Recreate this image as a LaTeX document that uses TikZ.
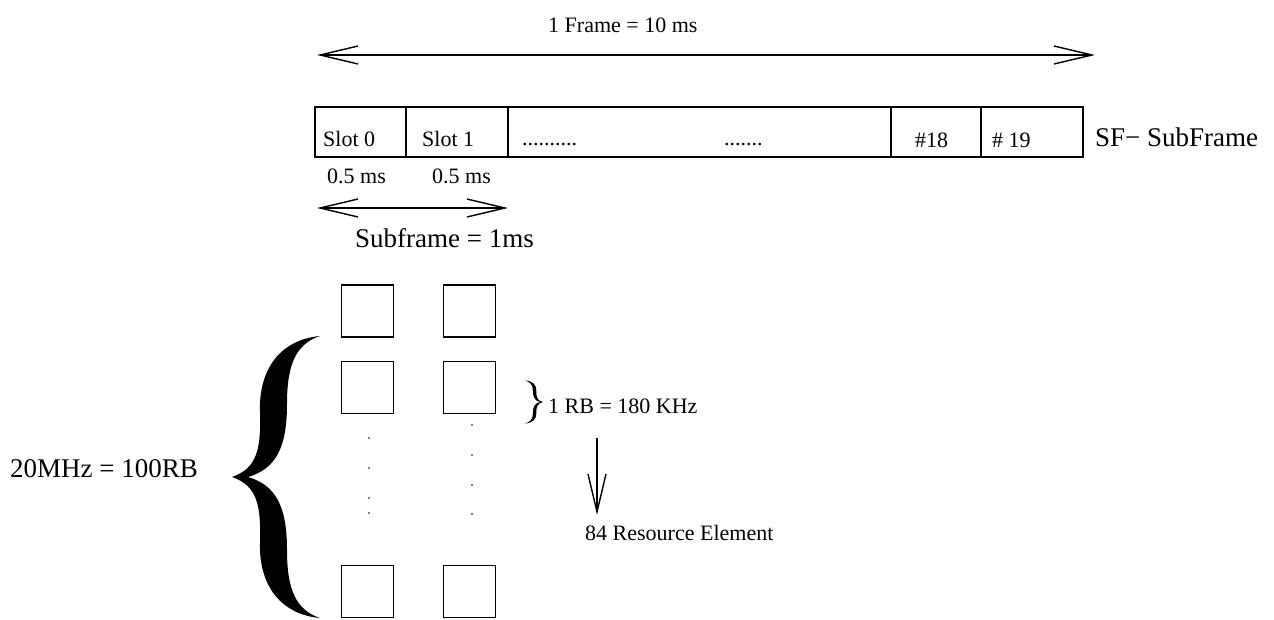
\documentclass[tikz,border=0pt]{standalone}
\usepackage{fontspec}
\setmainfont{Liberation Serif}
\usetikzlibrary{arrows.meta}
\tikzset{lbarb/.tip={Straight Barb[length=38pt,width=18pt,line width=1.4pt]}}
\begin{document}
\begin{tikzpicture}[x=1pt,y=-1pt,
  lbl/.style={anchor=base west, inner sep=0pt, font=\fontsize{22}{26}\selectfont},
  biglbl/.style={anchor=base west, inner sep=0pt, font=\fontsize{27}{32}\selectfont},
  cell/.style={draw, line width=1.3pt, minimum height=50pt, inner sep=0pt},
  rbsq/.style={draw, line width=1.2pt, minimum size=52pt, inner sep=0pt},
  dimarrow/.style={line width=1.4pt, lbarb-lbarb},
  downarrow/.style={line width=1.4pt, -lbarb},
  rbdot/.style={fill, circle, inner sep=0pt, minimum size=1.8pt},
  bracefill/.style={fill=black, draw=none}
]
\useasboundingbox (0,0) rectangle (1274,619);

% frame arrow
\coordinate (fl) at (317,55);
\coordinate (fr) at (1095,55);
\draw[dimarrow] (fl) -- (fr);
\node[lbl] (ftext) at (548,32) {1 Frame = 10 ms};

% frame cells
\node[cell, minimum width=91pt]  (c0) at (360.5,132) {};
\node[cell, minimum width=102pt] (c1) at (457,132) {};
\node[cell, minimum width=383pt] (c2) at (699.5,132) {};
\node[cell, minimum width=90pt]  (c3) at (936,132) {};
\node[cell, minimum width=102pt] (c4) at (1032,132) {};
\node[lbl] (s0) at (323,146) {Slot 0};
\node[lbl] (s1) at (422,146) {Slot 1};
\node[lbl] (d1) at (522,145) {..........};
\node[lbl] (d2) at (724,145) {.......};
\node[lbl] (s18) at (915,147) {\#18};
\node[lbl] (s19) at (992,147) {\# 19};
\node[biglbl] (sf) at (1095,146) {SF−\ SubFrame};

% slot durations
\node[lbl] (h0) at (327,183) {0.5 ms};
\node[lbl] (h1) at (432,183) {0.5 ms};

% subframe arrow
\coordinate (sl) at (317,208);
\coordinate (sr) at (508,208);
\draw[dimarrow] (sl) -- (sr);
\node[biglbl] (sft) at (355,247) {Subframe = 1ms};

% resource blocks
\node[rbsq] (q11) at (367.5,311) {};
\node[rbsq] (q12) at (469.5,311) {};
\node[rbsq] (q21) at (367.5,387.5) {};
\node[rbsq] (q22) at (469.5,387.5) {};
\node[rbsq] (q31) at (367.5,591.5) {};
\node[rbsq] (q32) at (469.5,591.5) {};
\foreach \yy [count=\i] in {438,468,498,513} {\node[rbdot] (pa\i) at (369,\yy) {};}
\foreach \yy [count=\i] in {425,455,485,514} {\node[rbdot] (pb\i) at (472,\yy) {};}

% big brace
\begin{scope}[shift={(232,477)}, xscale=88, yscale=141]
\fill[bracefill] (1,-1)
  .. controls (0.523,-0.972) and (0.307,-0.745) .. (0.318,-0.475)
  .. controls (0.330,-0.206) and (0.295,-0.064) .. (0,0)
  .. controls (0.295,0.064) and (0.330,0.206) .. (0.318,0.475)
  .. controls (0.307,0.745) and (0.523,0.972) .. (1,1)
  .. controls (0.727,0.943) and (0.625,0.801) .. (0.625,0.518)
  .. controls (0.625,0.199) and (0.489,0.057) .. (0.182,0)
  .. controls (0.489,-0.057) and (0.625,-0.199) .. (0.625,-0.518)
  .. controls (0.625,-0.801) and (0.727,-0.943) .. (1,-1) -- cycle;
\end{scope}
\node[biglbl] (bw) at (10,477) {20MHz = 100RB};

% small brace
\begin{scope}[shift={(543,402)}, xscale=-18, yscale=21.5]
\fill[bracefill] (1,-1)
  .. controls (0.55,-0.97) and (0.36,-0.80) .. (0.37,-0.50)
  .. controls (0.38,-0.20) and (0.30,-0.06) .. (0,0)
  .. controls (0.30,0.06) and (0.38,0.20) .. (0.37,0.50)
  .. controls (0.36,0.80) and (0.55,0.97) .. (1,1)
  .. controls (0.72,0.93) and (0.56,0.82) .. (0.56,0.52)
  .. controls (0.56,0.20) and (0.45,0.05) .. (0.15,0)
  .. controls (0.45,-0.05) and (0.56,-0.20) .. (0.56,-0.52)
  .. controls (0.56,-0.82) and (0.72,-0.93) .. (1,-1) -- cycle;
\end{scope}
\node[lbl] (rb) at (548,413) {1 RB = 180 KHz};

% resource element arrow
\coordinate (at) at (597,438);
\coordinate (ab) at (597,515);
\draw[downarrow] (at) -- (ab);
\node[lbl] (re) at (585,540) {84 Resource Element};
\end{tikzpicture}
\end{document}
